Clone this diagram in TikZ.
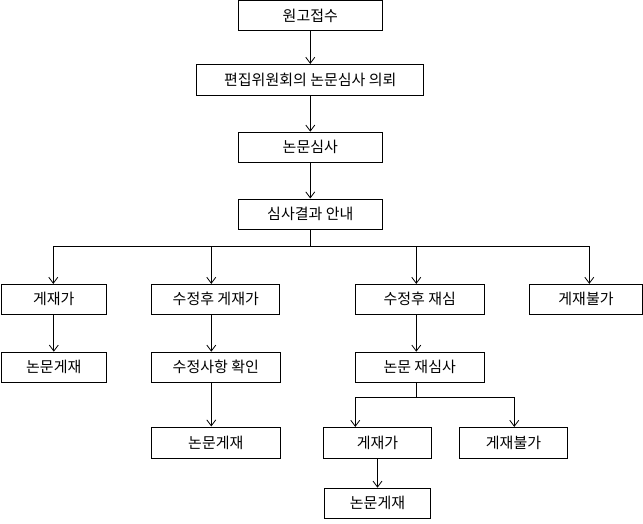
\documentclass[tikz,border=0pt]{standalone}
\usepackage{fontspec}
\newfontfamily\kofont{Noto Sans CJK KR}
\usetikzlibrary{arrows.meta, positioning}

\begin{document}
\begin{tikzpicture}[x=1pt, y=-1pt, ->, >={Straight Barb[length=6pt,width=9pt]},
line width = 0.8pt,
stage/.style={rectangle, draw, minimum height=30pt, inner sep=2pt,
  font=\kofont\fontsize{15}{18}\selectfont}]

\useasboundingbox (0,0) rectangle (643,523);

\node [stage, minimum width=144pt] (start) at (310.3,15.5) {원고접수};
\node [stage, minimum width=227pt, minimum height=31pt] (request) [below=33pt of start] {편집위원회의 논문심사 의뢰};
\path (start) edge (request);
\node [stage, minimum width=144pt] (review) [below=36pt of request] {논문심사};
\path (request) edge (review);
\node [stage, minimum width=144pt] (notice) [below=36pt of review] {심사결과 안내};
\path (review) edge (notice);

% first branch
\coordinate (bus) at (310.3,246);
\coordinate (t1) at (53.3,246);
\coordinate (t2) at (211.3,246);
\coordinate (t3) at (416.3,246);
\coordinate (t4) at (589.3,246);
\draw [-] (notice) -- (bus);
\draw [-] (t1) -- (t4);

\node [stage, minimum width=105pt] (accept) at (53.8,299.3) {게재가};
\node [stage, minimum width=128pt] (minor) at (215.8,299.3) {수정후 게재가};
\node [stage, minimum width=129pt] (major) at (419.7,299.3) {수정후 재심};
\node [stage, minimum width=113pt] (reject) at (586,299.3) {게재불가};
\draw (t1) -- (t1 |- accept.north);
\draw (t2) -- (t2 |- minor.north);
\draw (t3) -- (t3 |- major.north);
\draw (t4) -- (t4 |- reject.north);

\node [stage, minimum width=105pt] (print) [below=37pt of accept] {논문게재};
\path (accept) edge (print);
\node [stage, minimum width=129pt] (check) [below=37pt of minor] {수정사항 확인};
\draw (minor.south -| t2) -- (check.north -| t2);
\node [stage, minimum width=129pt] (again) [below=37pt of major] {논문 재심사};
\draw (major.south -| t3) -- (again.north -| t3);

\node [stage, minimum width=129pt, minimum height=31pt] (printm) [below=44pt of check] {논문게재};
\draw (check.south -| t2) -- (printm.north -| t2);

% second branch
\coordinate (fork) at (416.3,397);
\coordinate (f1) at (355.3,397);
\coordinate (f2) at (514.3,397);
\draw [-] (again.south -| fork) -- (fork);
\draw [-] (f1) -- (f2);

\node [stage, minimum width=108pt, minimum height=31pt] (acceptr) at (377.5,442.8) {게재가};
\node [stage, minimum width=108pt, minimum height=31pt] (rejectr) at (513.5,442.8) {게재불가};
\draw (f1) -- (f1 |- acceptr.north);
\draw (f2) -- (f2 |- rejectr.north);

\node [stage, minimum width=106pt] (printr) [below=29pt of acceptr] {논문게재};
\path (acceptr) edge (printr);
\end{tikzpicture}
\end{document}
